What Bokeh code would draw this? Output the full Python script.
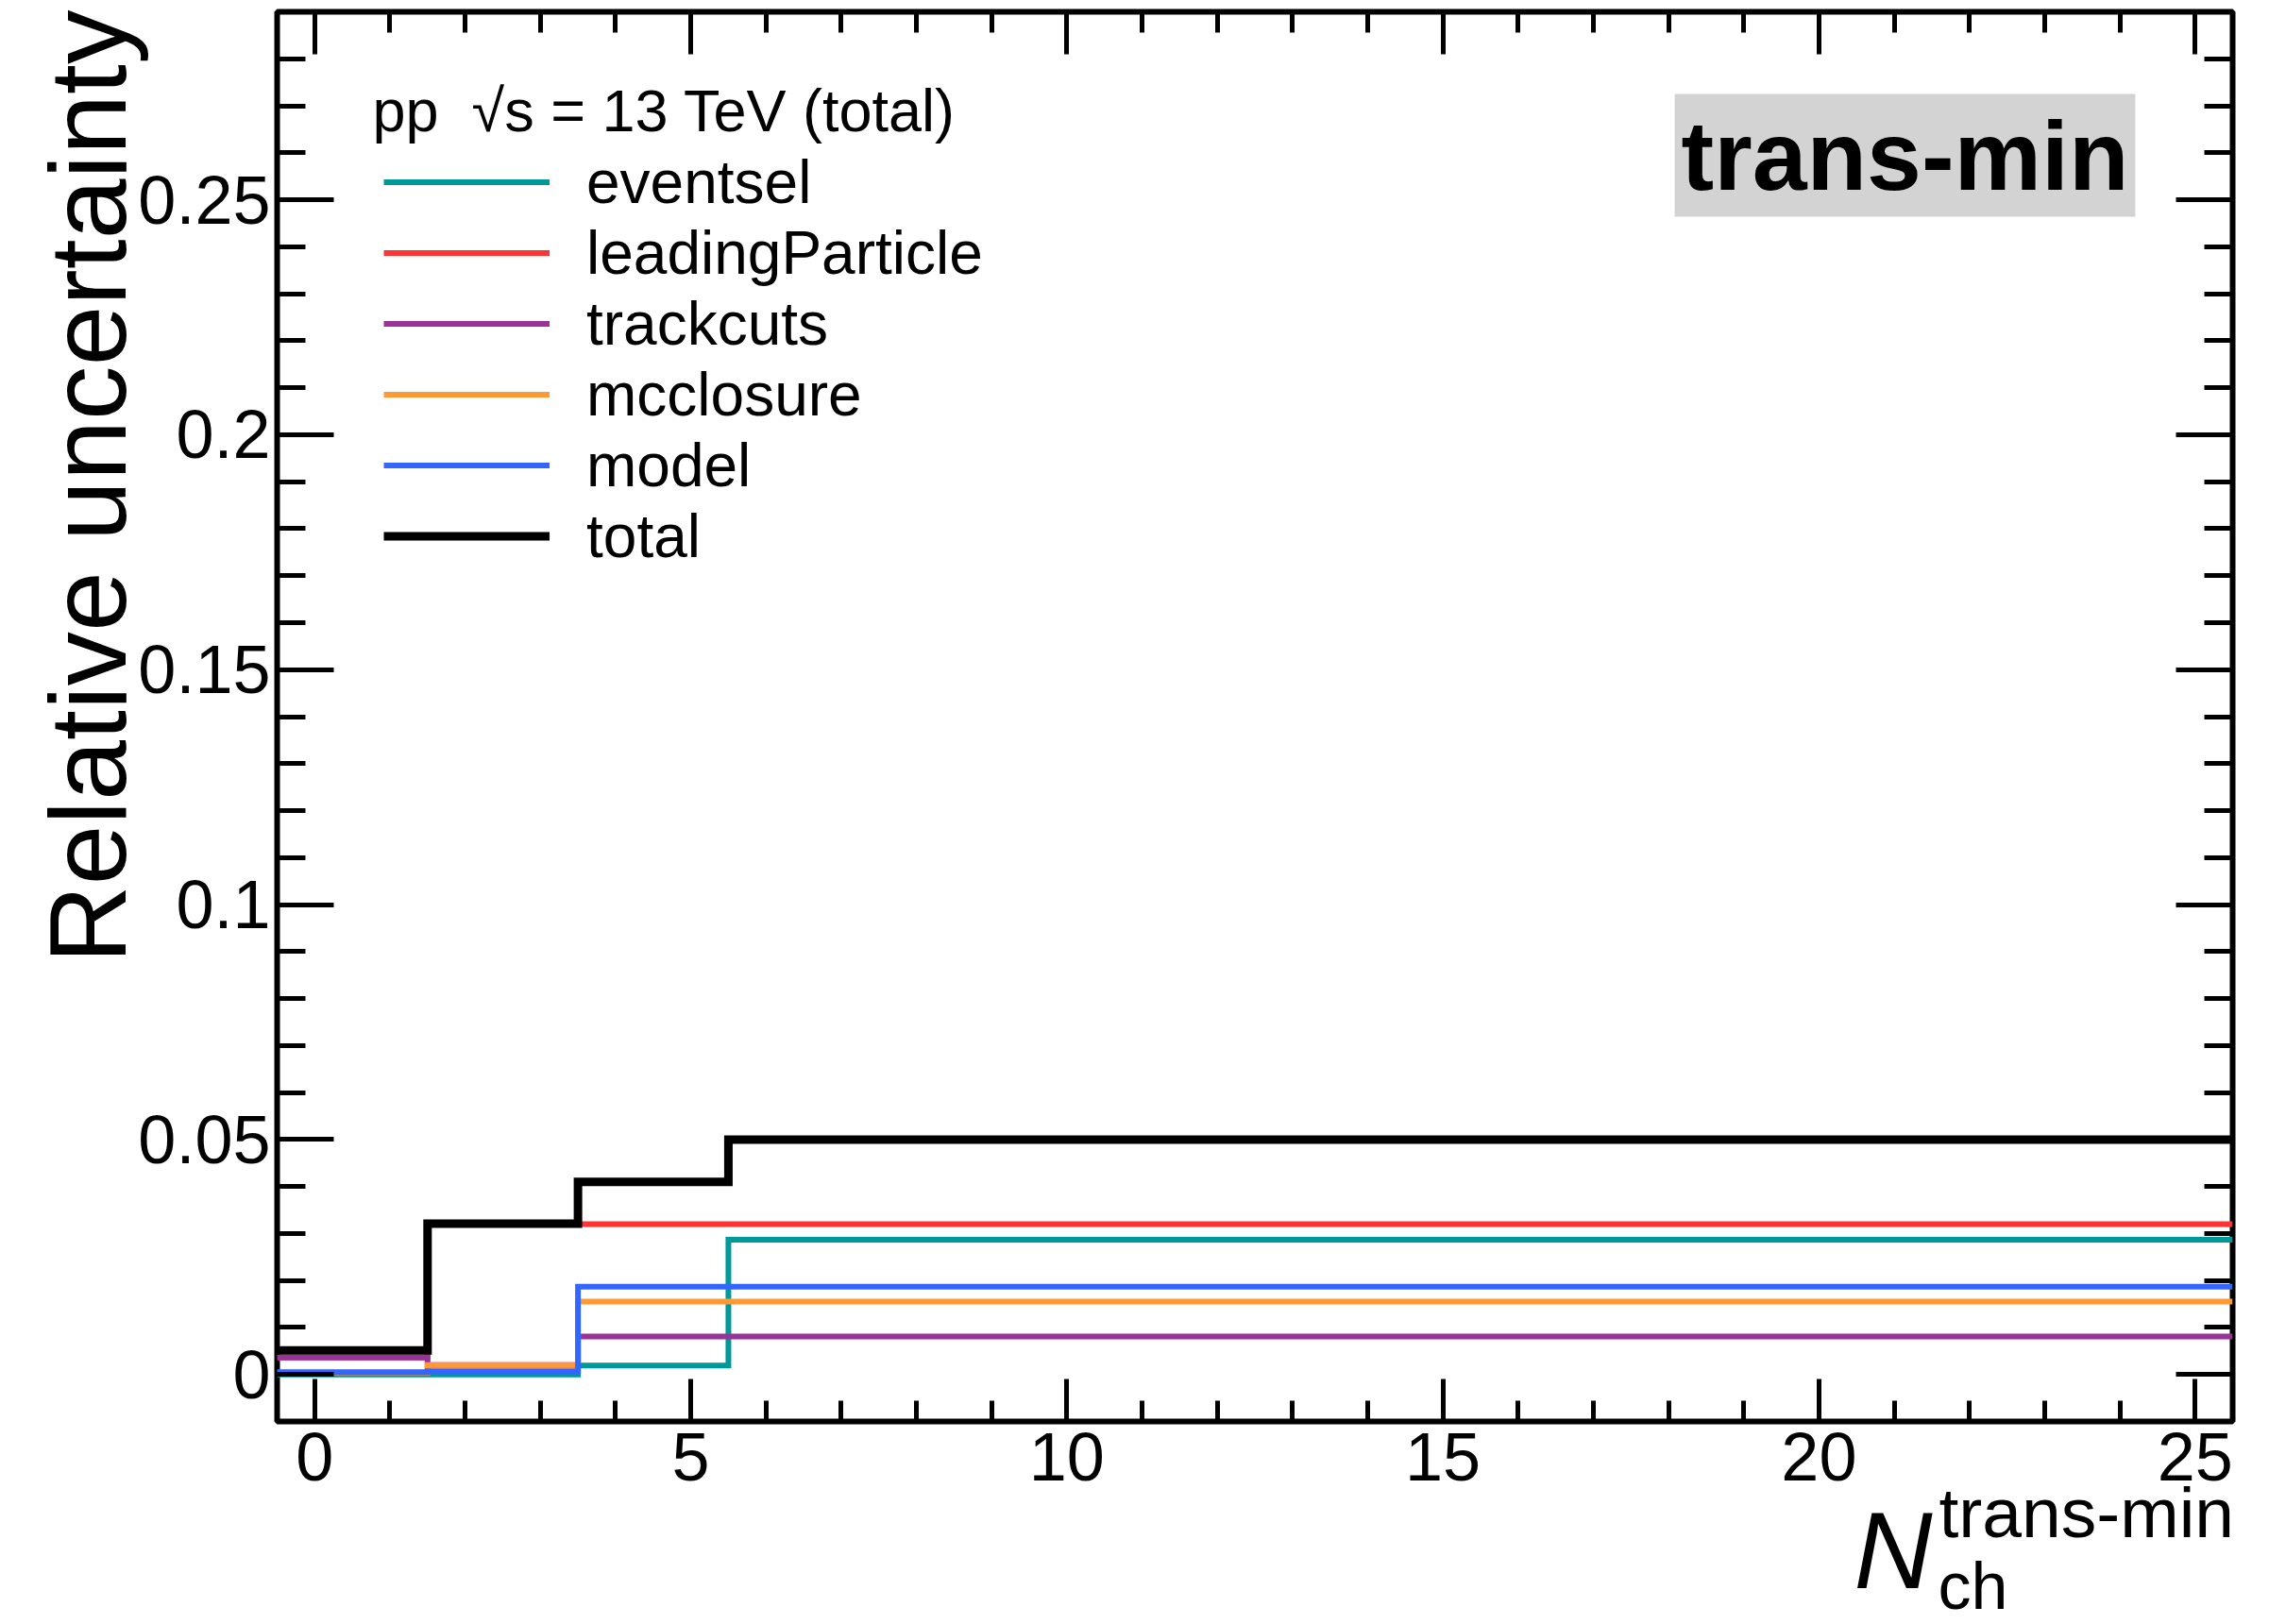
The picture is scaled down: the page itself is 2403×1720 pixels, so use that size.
import math
from bokeh.plotting import figure
from bokeh.models import (SingleIntervalTicker, LinearAxis, Range1d, Legend, LegendItem,
                          Label, CustomJSTickFormatter, GridBox, Column)
from bokeh.embed import file_html
from bokeh.resources import INLINE

# ---- data ----
bin_edges = [-0.5, 1.5, 3.5, 5.5, 25.5]
eventsel = [0.0000, 0.0000, 0.0019, 0.0287]
leadingParticle = [0.0036, 0.0320, 0.0320, 0.0320]
trackcuts = [0.0036, 0.0020, 0.0081, 0.0081]
mcclosure = [0.0004, 0.0020, 0.0155, 0.0155]
model = [0.0005, 0.0007, 0.0187, 0.0187]
total = [0.0051, 0.0321, 0.0410, 0.0500]

series_names = ["eventsel", "leadingParticle", "trackcuts", "mcclosure", "model", "total"]
series_values = [eventsel, leadingParticle, trackcuts, mcclosure, model, total]
series_colors = ["#009999", "#ff3333", "#993399", "#ff9933", "#3366ff", "#000000"]
series_widths = [6, 6, 6, 6, 6, 9]

x_ticks_interval = 5
y_ticks_interval = 0.05

FONT = "Liberation Sans"
W, H = 2403, 1720

p = figure(width=W, height=H, output_backend="svg", toolbar_location=None,
           x_range=Range1d(-0.5, 25.5), y_range=Range1d(-0.01, 0.29),
           min_border_left=293, min_border_right=39, min_border_top=12, min_border_bottom=215)
p.grid.visible = False
p.outline_line_color = "black"
p.outline_line_width = 6
p.background_fill_color = "white"
p.border_fill_color = "white"

xt = SingleIntervalTicker(interval=x_ticks_interval, num_minor_ticks=5)
yt = SingleIntervalTicker(interval=y_ticks_interval, num_minor_ticks=5)

yfmt = CustomJSTickFormatter(code="""
var s = tick.toFixed(2);
s = s.replace(/0+$/, '');
s = s.replace(/\\.$/, '');
return s;
""")
blank = CustomJSTickFormatter(code="return '';")

def style_axis(ax, tin, tmin, show_labels):
    ax.axis_line_color = None
    ax.major_tick_in = tin
    ax.major_tick_out = 0
    ax.minor_tick_in = tmin
    ax.minor_tick_out = 0
    ax.major_tick_line_width = 5
    ax.minor_tick_line_width = 5
    ax.major_tick_line_color = "black"
    ax.minor_tick_line_color = "black"
    if show_labels:
        ax.major_label_text_font = FONT
        ax.major_label_text_font_size = "72px"
        ax.major_label_text_color = "black"
    else:
        ax.formatter = blank
        ax.major_label_text_font_size = "1px"
        ax.major_label_text_color = None
        ax.major_label_standoff = 0

bx = p.xaxis[0]
bx.ticker = xt
style_axis(bx, 45, 22, True)
bx.major_label_standoff = 12

ly = p.yaxis[0]
ly.ticker = yt
ly.formatter = yfmt
style_axis(ly, 60, 30, True)
ly.major_label_standoff = 7

tx = LinearAxis(ticker=SingleIntervalTicker(interval=x_ticks_interval, num_minor_ticks=5))
style_axis(tx, 45, 22, False)
p.add_layout(tx, "above")

ry = LinearAxis(ticker=SingleIntervalTicker(interval=y_ticks_interval, num_minor_ticks=5))
style_axis(ry, 60, 30, False)
p.add_layout(ry, "right")

items = []
for name, vals, col, lw in zip(series_names, series_values, series_colors, series_widths):
    r = p.step(x=bin_edges, y=list(vals) + [vals[-1]], mode="after",
               line_color=col, line_width=lw, line_join="miter")
    items.append(LegendItem(label=name, renderers=[r]))

legend = Legend(items=items, location=(113, 900),
                label_text_font=FONT, label_text_font_size="64px", label_text_color="black",
                glyph_width=176, glyph_height=75, label_height=75, label_standoff=39,
                spacing=0, padding=0, margin=0,
                border_line_color=None, background_fill_alpha=0)
p.add_layout(legend)

# legend header
p.add_layout(Label(x=101, y=1389, x_units="screen", y_units="screen",
                   text="pp\u00a0\u00a0\u221as = 13 TeV (total)",
                   text_font=FONT, text_font_size="63px", text_color="black",
                   text_align="left", text_baseline="middle"))

p.add_layout(Label(x=1724, y=1341, x_units="screen", y_units="screen", text="trans-min",
                   text_font=FONT, text_font_size="104px", text_font_style="bold",
                   text_color="black", text_align="center", text_baseline="middle",
                   background_fill_color="#d3d3d3", padding=7))

# ---- transparent overlay figure for the axis titles (outside the frame) ----
q = figure(width=W, height=H, output_backend="svg", toolbar_location=None,
           x_range=Range1d(0, W), y_range=Range1d(0, H),
           x_axis_location=None, y_axis_location=None,
           min_border=0, min_border_left=0, min_border_right=0,
           min_border_top=0, min_border_bottom=0)
q.grid.visible = False
q.outline_line_color = None
q.background_fill_color = None
q.border_fill_color = None

q.add_layout(Label(x=1963, y=79, x_units="screen", y_units="screen", text="N",
                   text_font=FONT, text_font_size="115px", text_font_style="italic",
                   text_color="black", text_align="left", text_baseline="alphabetic"))
q.add_layout(Label(x=2053, y=119, x_units="screen", y_units="screen", text="trans-min",
                   text_font=FONT, text_font_size="75px", text_color="black",
                   text_align="left", text_baseline="alphabetic"))
q.add_layout(Label(x=2052, y=41, x_units="screen", y_units="screen", text="ch",
                   text_font=FONT, text_font_size="70px", text_color="black",
                   text_align="left", text_baseline="alphabetic"))
q.add_layout(Label(x=92, y=H - 10, x_units="screen", y_units="screen", angle=math.pi / 2,
                   text="Relative uncertainty",
                   text_font=FONT, text_font_size="115px", text_color="black",
                   text_align="right", text_baseline="alphabetic"))

layout = GridBox(children=[(Column(children=[p]), 0, 0), (Column(children=[q]), 0, 0)])

open("out.html", "w").write(file_html(layout, INLINE))
